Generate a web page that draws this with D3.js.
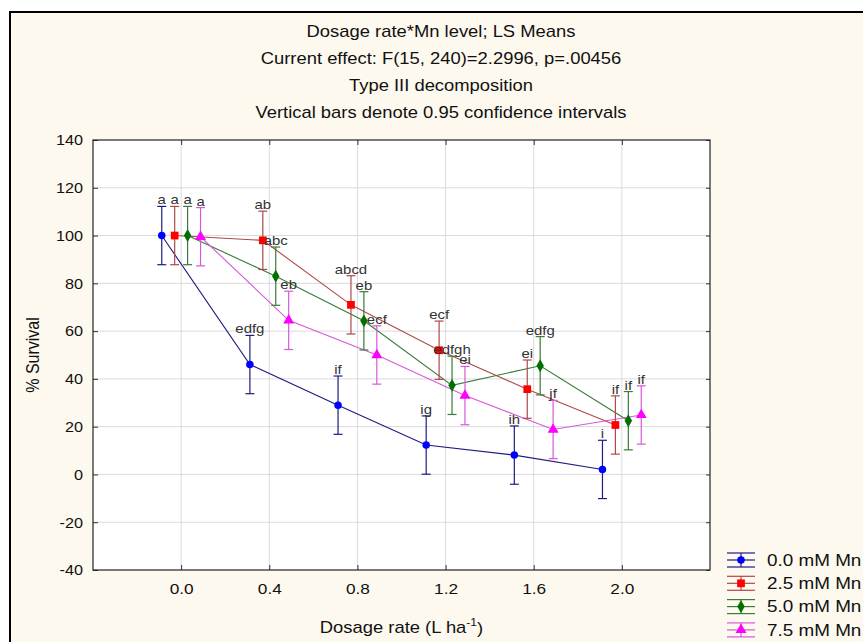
<!DOCTYPE html>
<html><head><meta charset="utf-8">
<script src="https://cdn.jsdelivr.net/npm/d3@7"></script>
<style>body{margin:0;background:#fff}svg{display:block}text{font-family:Arial,"Liberation Sans",sans-serif}</style>
</head><body>
<script>
// ---- data ----
const doses = [0.0, 0.4, 0.8, 1.2, 1.6, 2.0];
const seriesNames = ["0.0 mM Mn", "2.5 mM Mn", "5.0 mM Mn", "7.5 mM Mn"];
const mn00 = [100, 46, 29, 12.3, 8.1, 2.1];
const mn25 = [100, 98, 71, 52, 35.7, 20.7];
const mn50 = [100, 83, 64.3, 37.3, 45.5, 22.5];
const mn75 = [99.5, 64.5, 50, 33, 18.8, 24.9];
const ciHalf = [12.2, 12.2, 12.2, 12.2];
const lab00 = ["a", "edfg", "if", "ig", "ih", "i"];
const lab25 = ["a", "ab", "abcd", "ecf", "ei", "if"];
const lab50 = ["a", "abc", "eb", "edfgh", "edfg", "if"];
const lab75 = ["a", "eb", "ecf", "ei", "jf", "if"];
const yTicks = [-40, -20, 0, 20, 40, 60, 80, 100, 120, 140];
const xTicks = [0.0, 0.4, 0.8, 1.2, 1.6, 2.0];
const titleLines = ["Dosage rate*Mn level; LS Means",
  "Current effect: F(15, 240)=2.2996, p=.00456",
  "Type III decomposition",
  "Vertical bars denote 0.95 confidence intervals"];

const values = [mn00, mn25, mn50, mn75];
const labels = [lab00, lab25, lab50, lab75];
const markerCol = ["#0000ff", "#ff0000", "#007000", "#ff00ff"];
const lineCol = ["#1c1c80", "#b04848", "#3a7a3a", "#d858d8"];
const symTypes = [d3.symbolCircle, d3.symbolSquare, d3.symbolDiamond, d3.symbolTriangle];
const symSizes = [44, 60, 48, 52];

const W = 863, H = 642;
const L = 93, R = 710, T = 140, B = 570;
const SX = 1.15; // reference text is horizontally wide
const FONT = "Arial, 'Liberation Sans', sans-serif";

function stretch(sel, s) {
  sel.each(function () {
    const t = d3.select(this);
    const x = +t.attr("x") || 0, y = +t.attr("y") || 0;
    t.attr("x", null).attr("y", null).attr("transform", `translate(${x},${y}) scale(${s},1)`);
  });
}

const svg = d3.select("body").append("svg").attr("width", W).attr("height", H);
svg.append("rect").attr("width", W).attr("height", H).attr("fill", "#fff");
svg.append("rect").attr("x", 10).attr("y", 12).attr("width", W + 20).attr("height", H + 20)
  .attr("fill", "#fdf9ef").attr("stroke", "#000").attr("stroke-width", 2);

const x = d3.scaleLinear().domain([-0.4, 2.4]).range([L, R]);
const y = d3.scaleLinear().domain([-40, 140]).range([B, T]);
const off = d3.scalePoint().domain(seriesNames).range([-0.088, 0.088]);

// plot background
svg.append("rect").attr("x", L).attr("y", T).attr("width", R - L).attr("height", B - T).attr("fill", "#fff");
// grid
const g = svg.append("g");
g.selectAll(".hg").data(yTicks.filter(v => v > -40 && v < 140)).join("line")
  .attr("x1", L).attr("x2", R).attr("y1", d => y(d)).attr("y2", d => y(d))
  .attr("stroke", "#dadada").attr("stroke-width", 1);
g.selectAll(".vg").data(xTicks).join("line")
  .attr("x1", d => x(d)).attr("x2", d => x(d)).attr("y1", T).attr("y2", B)
  .attr("stroke", "#dadada").attr("stroke-width", 1);

// axes
const ax = svg.append("g");
const yAx = ax.append("g").attr("transform", `translate(${L},0)`)
  .call(d3.axisLeft(y).tickValues(yTicks).tickSize(-5).tickPadding(10).tickFormat(d => String(d)));
const xAx = ax.append("g").attr("transform", `translate(0,${B})`)
  .call(d3.axisBottom(x).tickValues(xTicks).tickSize(-5).tickPadding(13).tickFormat(d3.format(".1f")));
const xTop = ax.append("g").attr("transform", `translate(0,${T})`)
  .call(d3.axisTop(x).tickValues(xTicks).tickSize(-5).tickFormat(""));
const yR = ax.append("g").attr("transform", `translate(${R},0)`)
  .call(d3.axisRight(y).tickValues(yTicks).tickSize(-4).tickFormat(""));
[yAx, xAx, xTop, yR].forEach(a => {
  a.attr("font-size", 15).attr("font-family", FONT);
  a.select(".domain").remove();
  a.selectAll("line").attr("stroke", "#333");
  a.selectAll("text").attr("fill", "#111");
});
stretch(yAx.selectAll("text"), 1.08);
stretch(xAx.selectAll("text"), 1.15);
svg.append("rect").attr("x", L).attr("y", T).attr("width", R - L).attr("height", B - T)
  .attr("fill", "none").attr("stroke", "#222").attr("stroke-width", 1.2);

// series
const plot = svg.append("g");
values.forEach((vals, si) => {
  const name = seriesNames[si];
  const px = i => x(doses[i] + off(name));
  const line = d3.line().x((d, i) => px(i)).y(d => y(d));
  plot.append("path").attr("d", line(vals)).attr("fill", "none")
    .attr("stroke", lineCol[si]).attr("stroke-width", 1.1);
});
values.forEach((vals, si) => {
  const name = seriesNames[si];
  const px = i => x(doses[i] + off(name));
  const eg = plot.append("g").attr("stroke", lineCol[si]).attr("stroke-width", 1.2);
  vals.forEach((v, i) => {
    const hi = y(v + ciHalf[si]), lo = y(v - ciHalf[si]), cx = px(i);
    eg.append("line").attr("x1", cx).attr("x2", cx).attr("y1", hi).attr("y2", lo);
    eg.append("line").attr("x1", cx - 4.5).attr("x2", cx + 4.5).attr("y1", hi).attr("y2", hi);
    eg.append("line").attr("x1", cx - 4.5).attr("x2", cx + 4.5).attr("y1", lo).attr("y2", lo);
  });
  plot.append("g").selectAll("path").data(vals).join("path")
    .attr("transform", (d, i) => `translate(${px(i)},${y(d)})`)
    .attr("d", d3.symbol().type(symTypes[si]).size(symSizes[si]))
    .attr("fill", markerCol[si]);
});
// letter labels
values.forEach((vals, si) => {
  const name = seriesNames[si];
  const t = plot.append("g").selectAll("text").data(vals).join("text")
    .attr("x", (d, i) => x(doses[i] + off(name)))
    .attr("y", d => y(d + ciHalf[si]) - 2)
    .attr("text-anchor", "middle").attr("font-size", 13).attr("fill", "#333")
    .text((d, i) => labels[si][i]);
  stretch(t, SX);
});

// titles (centred on the whole graph window)
const tcx = 441;
const tt = svg.append("g").selectAll("text").data(titleLines).join("text")
  .attr("x", tcx).attr("y", (d, i) => 31 + i * 27).attr("dy", "0.35em")
  .attr("text-anchor", "middle").attr("font-size", 16).attr("fill", "#111").text(d => d);
stretch(tt, SX);

// axis titles
const pcx = (L + R) / 2;
const xt = svg.append("text").attr("x", pcx).attr("y", 627).attr("dy", "0.35em")
  .attr("text-anchor", "middle").attr("font-size", 16).attr("fill", "#111");
xt.append("tspan").text("Dosage rate (L ha");
xt.append("tspan").attr("font-size", 10.5).attr("dy", "-0.6em").text("-1");
xt.append("tspan").attr("dy", "0.5em").text(")");
stretch(xt, SX);
svg.append("text").attr("transform", `translate(33,${(T + B) / 2}) rotate(-90) scale(1,${SX})`).attr("dy", "0.35em")
  .attr("text-anchor", "middle").attr("font-size", 16).attr("fill", "#111").text("% Survival");

// legend
const lg = svg.append("g");
seriesNames.forEach((n, si) => {
  const ly = 560 + si * 23.3;
  const e = lg.append("g").attr("stroke", lineCol[si]).attr("stroke-width", 1.2);
  [-7, 0, 7].forEach(dy => e.append("line").attr("x1", 727).attr("x2", 755).attr("y1", ly + dy).attr("y2", ly + dy));
  e.append("line").attr("x1", 741).attr("x2", 741).attr("y1", ly - 7).attr("y2", ly + 7);
  lg.append("path").attr("transform", `translate(741,${ly})`)
    .attr("d", d3.symbol().type(symTypes[si]).size(symSizes[si])).attr("fill", markerCol[si]);
  const lt = lg.append("text").attr("x", 767).attr("y", ly).attr("dy", "0.35em").attr("font-size", 16)
    .attr("fill", "#111").text(n);
  stretch(lt, 1.18);
});
</script>
</body></html>
